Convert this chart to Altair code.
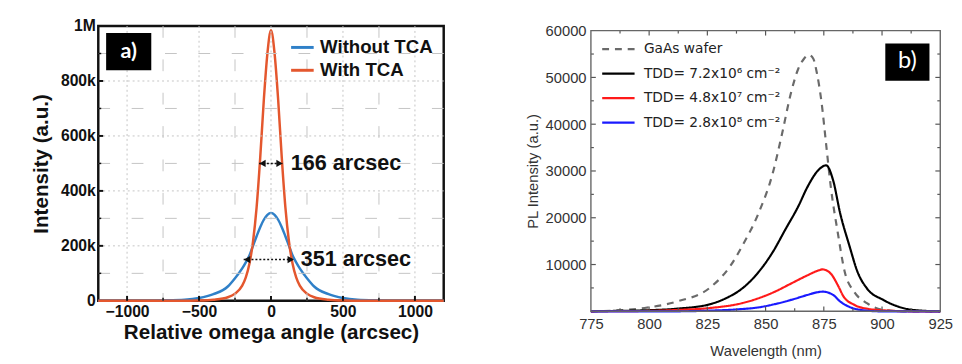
import altair as alt
import pandas as pd

# ---------------- Panel a data ----------------
omega = [-1200, -900, -750, -600, -500, -400, -300, -250, -200, -175, -150, -125, -100, -75, -50, -25,
         0, 25, 50, 75, 100, 125, 150, 175, 200, 250, 300, 400, 500, 600, 750, 900, 1200]
without_tca = [0, 500, 1500, 4000, 10000, 24000, 52000, 82000, 118000, 140000, 165000, 200000, 235000, 268000, 295000, 313000,
               320000, 313000, 295000, 268000, 235000, 200000, 165000, 140000, 118000, 82000, 52000, 24000, 10000, 4000, 1500, 500, 0]
with_tca = [0, 0, 0, 300, 1000, 4000, 13000, 26000, 55000, 85000, 135000, 215000, 340000, 520000, 730000, 900000,
            985000, 900000, 730000, 520000, 340000, 215000, 135000, 85000, 55000, 26000, 13000, 4000, 1000, 300, 0, 0, 0]
series_a = ["Without TCA", "With TCA"]
colors_a = ["#2f80c8", "#e4572e"]
xa_major = [-1000, -500, 0, 500, 1000]
xa_minor = [-750, -250, 250, 750]
ya_major = [0, 200000, 400000, 600000, 800000, 1000000]
ya_minor = [100000, 300000, 500000, 700000, 900000]
fwhm_text = ["166 arcsec", "351 arcsec"]
fwhm_left = [-83, -190]
fwhm_right = [83, 161]
fwhm_level = [500000, 150000]
fwhm_text_x = [138, 206]

# ---------------- Panel b data ----------------
gaas_wl = [775, 784, 798, 812, 826, 835, 840, 847, 853, 857, 861, 864, 866.5, 868.5, 870.5, 872, 874, 876, 878, 881, 884, 888, 893.5, 900, 909, 925]
gaas = [0, 140, 700, 2100, 5000, 9800, 14000, 21000, 29400, 37800, 46900, 51800, 54000, 54800, 54000, 51000, 44800, 35700, 26600, 16800, 8400, 4200, 1750, 350, 0, 0]
tdd1_wl = [775, 784, 798, 812, 826, 833, 840, 847, 853, 858.5, 864, 868, 872.5, 876, 879, 882, 886, 889.5, 893.5, 900.5, 909, 917, 925]
tdd1 = [0, 70, 210, 560, 1500, 2800, 4900, 8400, 12600, 17500, 22400, 26600, 30100, 31200, 28000, 21000, 14000, 8400, 4900, 2450, 700, 140, 0]
tdd2_wl = [775, 798, 812, 826, 840, 847, 854, 861, 868, 872, 874.5, 878, 881, 883.5, 888, 893.5, 903, 912, 925]
tdd2 = [0, 70, 280, 700, 1750, 2800, 4200, 5950, 7700, 8600, 8960, 8050, 5600, 3150, 1400, 560, 140, 0, 0]
tdd3_wl = [775, 812, 826, 840, 847, 854, 861, 868, 872, 874.5, 879, 882, 886.5, 892, 899, 925]
tdd3 = [0, 0, 140, 490, 840, 1540, 2450, 3500, 4050, 4200, 3500, 2100, 840, 210, 0, 0]
series_b = ["GaAs wafer", "TDD= 7.2x10\u2076 cm\u207b\u00b2", "TDD= 4.8x10\u2077 cm\u207b\u00b2", "TDD= 2.8x10\u2078 cm\u207b\u00b2"]
colors_b = ["#6a6a6a", "#000000", "#ff1a1a", "#1a1aff"]
dashes_b = [[7, 6], [1, 0], [1, 0], [1, 0]]
xb_major = [800, 825, 850, 875, 900]
xb_minor = [787.5, 812.5, 837.5, 862.5, 887.5, 912.5]
yb_major = [10000, 20000, 30000, 40000, 50000]
yb_minor = [5000, 15000, 25000, 35000, 45000, 55000]
xb_labels = [775, 800, 825, 850, 875, 900, 925]
yb_labels = [10000, 20000, 30000, 40000, 50000, 60000]

FONT = "Liberation Sans"
WA, HA = 352, 280
WB = 356
DB = 4.7            # panel b frame starts a little lower than panel a
HBT = 286 + DB      # total height of panel b view

# ---------------- helpers ----------------
def vrules(vals, xs, dash, color, H):
    return alt.Chart(pd.DataFrame({"v": vals})).mark_rule(color=color, strokeWidth=1, strokeDash=dash).encode(
        x=alt.X("v:Q", scale=xs), y=alt.value(0), y2=alt.value(H))


def hrules(vals, ys, dash, color, W):
    return alt.Chart(pd.DataFrame({"v": vals})).mark_rule(color=color, strokeWidth=1, strokeDash=dash).encode(
        y=alt.Y("v:Q", scale=ys), x=alt.value(0), x2=alt.value(W))


def xticks(vals, xs, length, color, top, bottom, sw, both=True):
    d = pd.DataFrame({"v": vals})
    out = [alt.Chart(d).mark_rule(color=color, strokeWidth=sw).encode(
        x=alt.X("v:Q", scale=xs), y=alt.value(bottom), y2=alt.value(bottom - length))]
    if both:
        out.append(alt.Chart(d).mark_rule(color=color, strokeWidth=sw).encode(
            x=alt.X("v:Q", scale=xs), y=alt.value(top), y2=alt.value(top + length)))
    return out


def yticks(vals, ys, length, color, W, sw, both=True):
    d = pd.DataFrame({"v": vals})
    out = [alt.Chart(d).mark_rule(color=color, strokeWidth=sw).encode(
        y=alt.Y("v:Q", scale=ys), x=alt.value(0), x2=alt.value(length))]
    if both:
        out.append(alt.Chart(d).mark_rule(color=color, strokeWidth=sw).encode(
            y=alt.Y("v:Q", scale=ys), x=alt.value(W), x2=alt.value(W - length)))
    return out


# ---------------- Panel a ----------------
df_a = pd.concat([
    pd.DataFrame({"x": omega, "y": without_tca, "s": series_a[0]}),
    pd.DataFrame({"x": omega, "y": with_tca, "s": series_a[1]}),
])
xs_a = alt.Scale(domain=[-1200, 1200], nice=False, zero=False)
ys_a = alt.Scale(domain=[0, 1000000], nice=False)
GRID = "#c4c4c4"

lines_a = alt.Chart(df_a).mark_line(strokeWidth=2.5, interpolate="monotone").encode(
    x=alt.X("x:Q", scale=xs_a, axis=alt.Axis(
        values=xa_major, format="d", title="Relative omega angle (arcsec)", titleFont=FONT, titleFontSize=21,
        titleFontWeight="bold", titleColor="#111", labelFont=FONT, labelFontSize=16, labelFontWeight="bold",
        labelColor="#111", labelPadding=3, titlePadding=2, ticks=False, tickSize=0, domain=False, grid=False,
        labelFlush=False)),
    y=alt.Y("y:Q", scale=ys_a, axis=alt.Axis(
        values=ya_major, title="Intensity (a.u.)", titleFont=FONT, titleFontSize=21, titleFontWeight="bold",
        titleColor="#111", labelFont=FONT, labelFontSize=16, labelFontWeight="bold", labelColor="#111",
        labelPadding=3, titlePadding=9, ticks=False, tickSize=0, domain=False, grid=False, labelFlush=False,
        labelExpr="datum.value == 0 ? '0' : (datum.value >= 1000000 ? '1M' : format(datum.value / 1000, 'd') + 'k')")),
    color=alt.Color("s:N", scale=alt.Scale(domain=series_a, range=colors_a), sort=series_a, legend=alt.Legend(
        orient="none", legendX=195, legendY=8.8, title=None, labelFont=FONT, labelFontSize=19,
        labelFontWeight="bold", labelColor="#111", symbolType="stroke", symbolSize=529, symbolStrokeWidth=3,
        rowPadding=0.3, labelOffset=5, padding=0)),
)

grid_a = [
    vrules(xa_minor, xs_a, [12, 22], GRID, HA),
    hrules(ya_minor, ys_a, [12, 22], GRID, WA),
    vrules(xa_major, xs_a, [2, 3], GRID, HA),
    hrules(ya_major[1:-1], ys_a, [2, 3], GRID, WA),
]
ticks_a = (xticks(xa_major, xs_a, 5, "#111", 0, HA, 2, both=False)
           + xticks(xa_minor, xs_a, 3, "#111", 0, HA, 1.5, both=False)
           + yticks(ya_major[1:-1], ys_a, 5, "#111", WA, 2, both=False)
           + yticks(ya_minor, ys_a, 3, "#111", WA, 1.5, both=False))

ann = pd.DataFrame({"label": fwhm_text, "xl": fwhm_left, "xr": fwhm_right, "y": fwhm_level, "tx": fwhm_text_x})
arrow_line = alt.Chart(ann).mark_rule(color="#111", strokeWidth=1.5, strokeDash=[2, 2]).encode(
    x=alt.X("xl:Q", scale=xs_a), x2="xr:Q", y=alt.Y("y:Q", scale=ys_a))
head_l = alt.Chart(ann).mark_point(shape="triangle-left", filled=True, size=55, color="#111", opacity=1,
                                   xOffset=3.5).encode(
    x=alt.X("xl:Q", scale=xs_a), y=alt.Y("y:Q", scale=ys_a))
head_r = alt.Chart(ann).mark_point(shape="triangle-right", filled=True, size=55, color="#111", opacity=1,
                                   xOffset=-3.5).encode(
    x=alt.X("xr:Q", scale=xs_a), y=alt.Y("y:Q", scale=ys_a))
ann_text = alt.Chart(ann).mark_text(align="left", baseline="middle", font=FONT, fontSize=22,
                                    fontWeight="bold", color="#111").encode(
    x=alt.X("tx:Q", scale=xs_a), y=alt.Y("y:Q", scale=ys_a), text="label:N")

tag_a = pd.DataFrame({"t": ["a)"]})
box_a = alt.Chart(tag_a).mark_rect(color="black").encode(
    x=alt.value(8), x2=alt.value(54), y=alt.value(7), y2=alt.value(45))
txt_a = alt.Chart(tag_a).mark_text(color="white", font="Lato", fontSize=22, fontWeight="bold",
                                   align="center", baseline="middle").encode(
    x=alt.value(31), y=alt.value(26), text="t:N")
spacer_a = alt.Chart(tag_a).mark_rule(strokeOpacity=0).encode(x=alt.value(0), x2=alt.value(10), y=alt.value(-11.2))

panel_a = alt.layer(lines_a, *grid_a, *ticks_a, arrow_line, head_l, head_r, ann_text, box_a, txt_a, spacer_a).properties(
    width=WA, height=HA, view=alt.ViewBackground(stroke="#111", strokeWidth=2.5, fill="white"))

# ---------------- Panel b ----------------
df_b = pd.concat([
    pd.DataFrame({"x": gaas_wl, "y": gaas, "s": series_b[0]}),
    pd.DataFrame({"x": tdd1_wl, "y": tdd1, "s": series_b[1]}),
    pd.DataFrame({"x": tdd2_wl, "y": tdd2, "s": series_b[2]}),
    pd.DataFrame({"x": tdd3_wl, "y": tdd3, "s": series_b[3]}),
])
xs_b = alt.Scale(domain=[775, 925], nice=False, zero=False)
ys_b = alt.Scale(domain=[0, 60000], nice=False, range=[HBT, DB])
TC = "#555"
ticks_b = (xticks(xb_major, xs_b, 5, TC, DB, HBT, 1.2) + xticks(xb_minor, xs_b, 3, TC, DB, HBT, 1.2)
           + yticks(yb_major, ys_b, 5, TC, WB, 1.2) + yticks(yb_minor, ys_b, 3, TC, WB, 1.2))

leg_b = alt.Legend(orient="none", legendX=10, legendY=5.5, title=None, labelFont="DejaVu Sans", labelFontSize=14,
                   labelColor="#222", symbolType="stroke", symbolSize=1089, symbolStrokeWidth=2.2,
                   rowPadding=-14, labelOffset=8, padding=0)
lines_b = alt.Chart(df_b).mark_line(strokeWidth=2.2, interpolate="monotone").encode(
    x=alt.X("x:Q", scale=xs_b, axis=alt.Axis(
        values=xb_labels, format="d", title="Wavelength (nm)", titleFont=FONT, titleFontSize=15,
        titleFontWeight="normal", titleColor="#333", labelFont=FONT, labelFontSize=15, labelColor="#333",
        labelPadding=6, titlePadding=12, ticks=False, tickSize=0, domain=False, grid=False, labelFlush=False)),
    y=alt.Y("y:Q", scale=ys_b, axis=alt.Axis(
        values=yb_labels, format="d", title="PL Intensity (a.u.)", titleFont=FONT, titleFontSize=15,
        titleFontWeight="normal", titleColor="#333", labelFont=FONT, labelFontSize=15, labelColor="#333",
        labelPadding=5, titlePadding=4.5, ticks=False, tickSize=0, domain=False, grid=False, labelFlush=False)),
    color=alt.Color("s:N", scale=alt.Scale(domain=series_b, range=colors_b), sort=series_b, legend=leg_b),
    strokeDash=alt.StrokeDash("s:N", scale=alt.Scale(domain=series_b, range=dashes_b), sort=series_b, legend=leg_b),
)

tag_b = pd.DataFrame({"t": ["b)"]})
frame_b = alt.Chart(tag_b).mark_rect(filled=False, stroke="#666", strokeWidth=1.4).encode(
    x=alt.value(0), x2=alt.value(WB), y=alt.value(DB), y2=alt.value(HBT))
box_b = alt.Chart(tag_b).mark_rect(color="black").encode(
    x=alt.value(300), x2=alt.value(345), y=alt.value(13 + DB), y2=alt.value(51 + DB))
txt_b = alt.Chart(tag_b).mark_text(color="white", font="Lato", fontSize=24, fontWeight="normal",
                                   align="center", baseline="middle").encode(
    x=alt.value(322.5), y=alt.value(31.5 + DB), text="t:N")
spacer_b = alt.Chart(tag_b).mark_rule(strokeOpacity=0).encode(x=alt.value(0), x2=alt.value(10), y=alt.value(-11.2))

panel_b = alt.layer(lines_b, *ticks_b, frame_b, box_b, txt_b, spacer_b).properties(
    width=WB, height=HBT, view=alt.ViewBackground(stroke="transparent", fill="white"))

chart = alt.ConcatChart(concat=[panel_a, panel_b], columns=2, spacing=76, align="none").properties(
    padding={"left": 22, "top": 2, "right": 0, "bottom": 0}, background="white"
).resolve_scale(color="independent", strokeDash="independent")

chart.save("out.html", embed_options={"renderer": "svg", "actions": False})
